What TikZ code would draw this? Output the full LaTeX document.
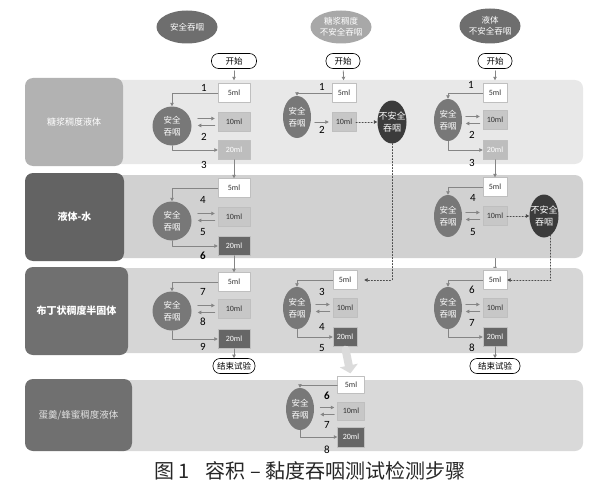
\documentclass[tikz,border=0pt]{standalone}
\usepackage{fontspec}
\setmainfont{Carlito}
\newfontfamily\cjk{Noto Sans CJK SC}
\usetikzlibrary{arrows.meta,shapes.geometric}
\pgfdeclarelayer{behind}
\pgfsetlayers{behind,main}
\definecolor{cBandA}{gray}{0.91}
\definecolor{cBandB}{gray}{0.82}
\definecolor{cBandC}{gray}{0.84}
\definecolor{cBandD}{gray}{0.85}
\definecolor{cLblA}{gray}{0.70}
\definecolor{cLblB}{gray}{0.39}
\definecolor{cLblC}{gray}{0.44}
\definecolor{cLblD}{gray}{0.44}
\definecolor{cSafe}{gray}{0.47}
\definecolor{cUnsafe}{gray}{0.23}
\definecolor{cHeadA}{gray}{0.43}
\definecolor{cHeadB}{gray}{0.66}
\definecolor{cTen}{gray}{0.78}
\definecolor{cTwentyL}{gray}{0.74}
\definecolor{cTwentyD}{gray}{0.40}
\definecolor{cLine}{gray}{0.52}
\definecolor{cBig}{gray}{0.86}

\begin{document}
\begin{tikzpicture}[x=1pt,y=-1pt,line cap=round,line join=round,>={Triangle[length=3.5pt,width=3.5pt]},
	lbl/.style={rounded corners=8pt,text=white,inner sep=0pt,font=\cjk\fontsize{9}{11}\selectfont},
	head/.style={ellipse,inner sep=0pt,minimum width=61,minimum height=33,text=white,align=center,font=\cjk\fontsize{8.5}{11}\selectfont},
	safe/.style={ellipse,fill=cSafe,text=white,inner sep=0pt,minimum width=28,minimum height=42,align=center,font=\cjk\fontsize{8.5}{11.5}\selectfont},
	unsafe/.style={ellipse,fill=cUnsafe,text=white,inner ysep=0pt,inner xsep=-5pt,minimum width=29,minimum height=43,align=center,font=\cjk\fontsize{9}{12}\selectfont},
	mlbox/.style={draw=black!25,line width=0.4pt,inner sep=0pt,minimum width=24,minimum height=19,text=black!80,font=\fontsize{8}{9}\selectfont},
	fiveml/.style={mlbox,fill=white},
	tenml/.style={mlbox,fill=cTen},
	twentyml/.style={mlbox,fill=cTwentyL,text=white},
	twentymlD/.style={mlbox,fill=cTwentyD,text=white},
	wide/.style={minimum width=32},
	pill/.style={draw,line width=0.6pt,rounded corners=7pt,fill=white,inner sep=0pt,minimum height=15,font=\cjk\fontsize{8.5}{10}\selectfont},
	num/.style={inner sep=0pt,font=\fontsize{11}{11}\selectfont},
	link/.style={draw=cLine,line width=0.8pt,->},
	dotlink/.style={draw=black!70,dotted,line width=1pt,->},
	bigarrow/.style={draw=cBig,line width=8pt,-{Triangle[length=8pt,width=18pt]}}]
	\useasboundingbox (0,0) rectangle (600,495);

	\fill[cBandA,rounded corners=8pt] (110,80) rectangle (583,164);
	\fill[cBandB,rounded corners=8pt] (110,175) rectangle (583,258);
	\fill[cBandC,rounded corners=8pt] (110,268) rectangle (583,353);
	\fill[cBandD,rounded corners=8pt] (110,380) rectangle (583,451);

	\node[lbl,fill=cLblA,minimum width=98,minimum height=88] (lb1) at (74,122) {糖浆稠度液体};
	\node[lbl,fill=cLblB,minimum width=99,minimum height=88,font=\cjk\bfseries\fontsize{10}{12}\selectfont] (lb2) at (74.5,217) {液体-水};
	\node[lbl,fill=cLblC,minimum width=103,minimum height=88,font=\cjk\bfseries\fontsize{10}{12}\selectfont] (lb3) at (76.5,311) {布丁状稠度半固体};
	\node[lbl,fill=cLblD,minimum width=107,minimum height=72,text=black!12,font=\cjk\fontsize{9.5}{12}\selectfont] (lb4) at (78.5,415) {蛋羹/蜂蜜稠度液体};

	\node[head,fill=cHeadA] (hSafe) at (187,27) {安全吞咽};
	\node[head,fill=cHeadB] (hSyrup) at (341,27) {糖浆稠度\\不安全吞咽};
	\node[head,fill=cHeadA,minimum height=35] (hLiquid) at (490,26) {液体\\不安全吞咽};

	\node[pill,minimum width=45] (start1) at (234,61) {开始};
	\node[pill,minimum width=34] (start2) at (343,61) {开始};
	\node[pill,minimum width=34] (start3) at (495,61) {开始};

	% column 1
	\node[fiveml,wide] (f11) at (234,93) {5ml};
	\node[safe,minimum width=39,minimum height=39] (s11) at (172,126) {安全\\吞咽};
	\node[tenml,wide] (t11) at (234,122) {10ml};
	\node[twentyml,wide] (w11) at (234,150) {20ml};
	\node[num] (n11) at (204,88) {1};
	\node[num] (n12) at (204,137) {2};
	\node[num] (n13) at (204,165) {3};

	\node[fiveml,wide] (f21) at (234,188) {5ml};
	\node[safe,minimum width=39,minimum height=39] (s21) at (172,221) {安全\\吞咽};
	\node[tenml,wide] (t21) at (234,217) {10ml};
	\node[twentymlD,wide] (w21) at (234,246) {20ml};
	\node[num] (n21) at (203,200) {4};
	\node[num] (n22) at (203,232) {5};
	\node[num,font=\bfseries\fontsize{11}{11}\selectfont] (n23) at (203,256) {6};

	\node[fiveml,wide] (f31) at (234,282) {5ml};
	\node[safe,minimum width=39,minimum height=39] (s31) at (172,311) {安全\\吞咽};
	\node[tenml,wide] (t31) at (234,309) {10ml};
	\node[twentymlD,wide] (w31) at (234,339) {20ml};
	\node[num] (n31) at (203,292) {7};
	\node[num] (n32) at (203,322) {8};
	\node[num] (n33) at (203,347) {9};
	\node[pill,minimum width=42] (end1) at (234,366) {结束试验};

	% column 2
	\node[fiveml] (f12) at (344,93) {5ml};
	\node[safe] (s12) at (297,117) {安全\\吞咽};
	\node[tenml] (t12) at (344,122) {10ml};
	\node[unsafe] (u12) at (392,122) {不安全\\吞咽};
	\node[num] (m11) at (322,87) {1};
	\node[num] (m12) at (322,130) {2};

	\node[fiveml] (f32) at (345,280) {5ml};
	\node[safe] (s32) at (297,308) {安全\\吞咽};
	\node[tenml] (t32) at (345,308) {10ml};
	\node[twentymlD] (w32) at (345,337) {20ml};
	\node[num] (m31) at (322,292) {3};
	\node[num] (m32) at (322,327) {4};
	\node[num] (m33) at (322,348) {5};

	\node[fiveml,minimum width=27,minimum height=17] (f42) at (351,385) {5ml};
	\node[safe] (s42) at (300,409) {安全\\吞咽};
	\node[tenml,minimum width=27,minimum height=18] (t42) at (351,411) {10ml};
	\node[twentymlD,minimum width=27,minimum height=20] (w42) at (351,437) {20ml};
	\node[num,font=\bfseries\fontsize{11}{11}\selectfont] (m41) at (327,396) {6};
	\node[num] (m42) at (327,425) {7};
	\node[num] (m43) at (327,450) {8};

	% column 3
	\node[fiveml] (f13) at (495,93) {5ml};
	\node[safe] (s13) at (448,120) {安全\\吞咽};
	\node[tenml] (t13) at (495,120) {10ml};
	\node[twentyml] (w13) at (495,150) {20ml};
	\node[num] (k11) at (471,85) {1};
	\node[num] (k12) at (472,135) {2};
	\node[num] (k13) at (472,163) {3};

	\node[fiveml] (f23) at (495,187) {5ml};
	\node[safe] (s23) at (448,216) {安全\\吞咽};
	\node[tenml] (t23) at (495,216) {10ml};
	\node[unsafe] (u23) at (544,216) {不安全\\吞咽};
	\node[num] (k21) at (473,198) {4};
	\node[num] (k22) at (473,232) {5};

	\node[fiveml] (f33) at (495,280) {5ml};
	\node[safe] (s33) at (448,308) {安全\\吞咽};
	\node[tenml] (t33) at (495,308) {10ml};
	\node[twentymlD] (w33) at (495,337) {20ml};
	\node[num] (k31) at (472,290) {6};
	\node[num] (k32) at (472,323) {7};
	\node[num] (k33) at (472,348) {8};
	\node[pill,minimum width=50] (end3) at (495,366) {结束试验};

	% links
	\draw[link,shorten <=2pt,shorten >=3pt] (start1) -- (f11);
	\draw[link,shorten <=2pt,shorten >=3pt] (start2) -- (f12);
	\draw[link,shorten <=2pt,shorten >=3pt] (start3) -- (f13);

	\draw[link] (f11.west) -| (s11.north);
	\draw[link] ([xshift=-20pt,yshift=3.5pt]t11.west) -- ([xshift=-3pt,yshift=3.5pt]t11.west);
	\draw[link] ([xshift=-3pt,yshift=-3.5pt]t11.west) -- ([xshift=-20pt,yshift=-3.5pt]t11.west);
	\draw[link] (s11.south) |- (w11.west);
	\draw[link] (w11.south) -- (f21.north);
	\draw[link] (f21.west) -| (s21.north);
	\draw[link] ([xshift=-20pt,yshift=3.5pt]t21.west) -- ([xshift=-3pt,yshift=3.5pt]t21.west);
	\draw[link] ([xshift=-3pt,yshift=-3.5pt]t21.west) -- ([xshift=-20pt,yshift=-3.5pt]t21.west);
	\draw[link] (s21.south) |- (w21.west);
	\draw[link] (w21.south) -- (f31.north);
	\draw[link] (f31.west) -| (s31.north);
	\draw[link] ([xshift=-20pt,yshift=3.5pt]t31.west) -- ([xshift=-3pt,yshift=3.5pt]t31.west);
	\draw[link] ([xshift=-3pt,yshift=-3.5pt]t31.west) -- ([xshift=-20pt,yshift=-3.5pt]t31.west);
	\draw[link] (s31.south) |- (w31.west);
	\draw[link] (w31.south) -- (end1.north);

	\draw[link] (f12.west) -| (s12.north);
	\draw[link] ([xshift=-17pt]t12.west) -- ([xshift=-3pt]t12.west);
	\draw[dotlink] (t12.east) -- (u12.west);
	\draw[dotlink,shorten >=7pt] (u12.south) |- (f32.east);
	\draw[link] (f32.west) -| (s32.north);
	\draw[link] ([xshift=-17pt,yshift=3.5pt]t32.west) -- ([xshift=-3pt,yshift=3.5pt]t32.west);
	\draw[link] ([xshift=-3pt,yshift=-3.5pt]t32.west) -- ([xshift=-17pt,yshift=-3.5pt]t32.west);
	\draw[link] (s32.south) |- (w32.west);
	\draw[bigarrow,shorten <=3pt,shorten >=3pt] (w32.south) -- (f42.north);
	\draw[link] (f42.west) -| (s42.north);
	\draw[link] ([xshift=-17pt,yshift=3.5pt]t42.west) -- ([xshift=-3pt,yshift=3.5pt]t42.west);
	\draw[link] ([xshift=-3pt,yshift=-3.5pt]t42.west) -- ([xshift=-17pt,yshift=-3.5pt]t42.west);
	\draw[link] (s42.south) |- (w42.west);

	\draw[link] (f13.west) -| (s13.north);
	\draw[link] ([xshift=-17pt,yshift=3.5pt]t13.west) -- ([xshift=-3pt,yshift=3.5pt]t13.west);
	\draw[link] ([xshift=-3pt,yshift=-3.5pt]t13.west) -- ([xshift=-17pt,yshift=-3.5pt]t13.west);
	\draw[link] (s13.south) |- (w13.west);
	\draw[link] (w13.south) -- (f23.north);
	\draw[link] (f23.west) -| (s23.north);
	\draw[link] ([xshift=-17pt,yshift=3.5pt]t23.west) -- ([xshift=-3pt,yshift=3.5pt]t23.west);
	\draw[link] ([xshift=-3pt,yshift=-3.5pt]t23.west) -- ([xshift=-17pt,yshift=-3.5pt]t23.west);
	\draw[dotlink] (t23.east) -- (u23.west);
	\draw[dotlink] (u23.-70) |- (f33.east);
	\begin{pgfonlayer}{behind}
		\draw[link] (t23.south) -- (f33.north);
	\end{pgfonlayer}
	\draw[link] (f33.west) -| (s33.north);
	\draw[link] ([xshift=-17pt,yshift=3.5pt]t33.west) -- ([xshift=-3pt,yshift=3.5pt]t33.west);
	\draw[link] ([xshift=-3pt,yshift=-3.5pt]t33.west) -- ([xshift=-17pt,yshift=-3.5pt]t33.west);
	\draw[link] (s33.south) |- (w33.west);
	\draw[link] (w33.south) -- (end3.north);

	\node[text=black!85,font=\cjk\fontsize{20}{22}\selectfont] (cap) at (310,471) {图 1\hspace{16pt}容积 – 黏度吞咽测试检测步骤};
\end{tikzpicture}
\end{document}
